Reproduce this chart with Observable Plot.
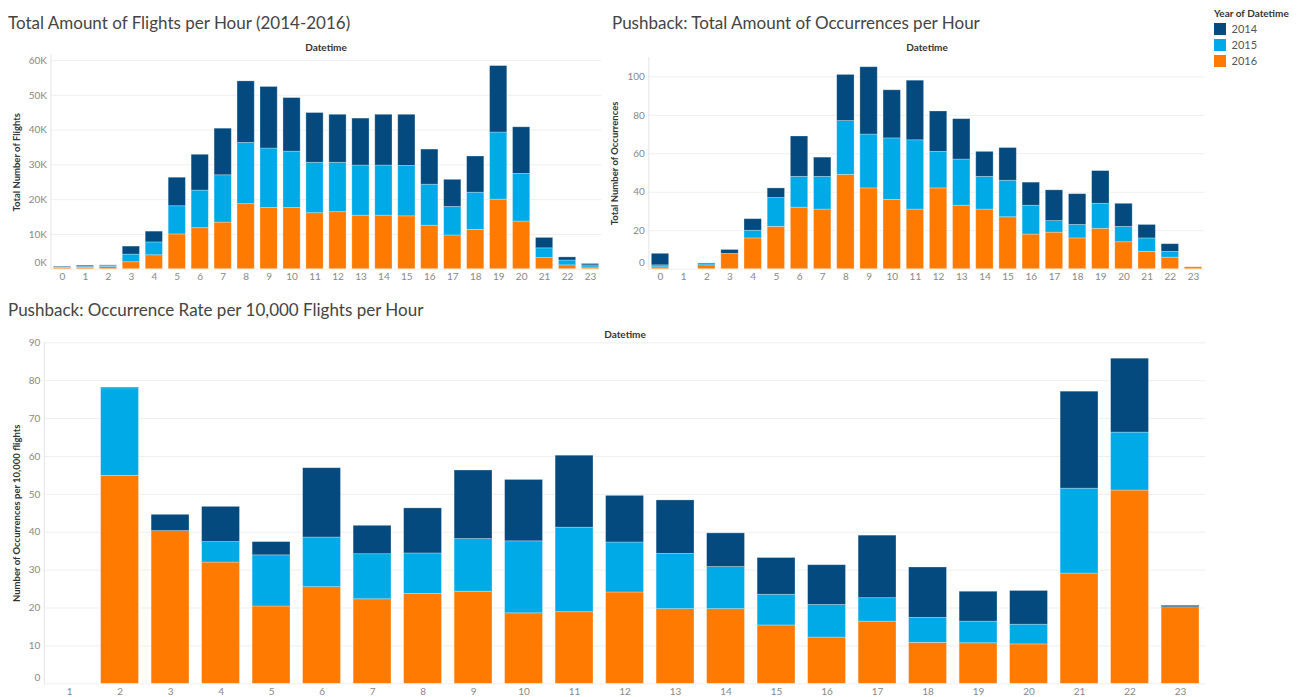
<!DOCTYPE html>
<html>
<head>
<meta charset="utf-8">
<script src="https://cdn.jsdelivr.net/npm/d3@7"></script>
<script src="https://cdn.jsdelivr.net/npm/@observablehq/plot@0.6"></script>
<style>
  html, body { margin: 0; padding: 0; background: #fff; }
  #root { position: relative; width: 1301px; height: 697px; overflow: hidden; font-family: Lato, "Open Sans", sans-serif; }
  .abs { position: absolute; }
  .title { font-size: 17px; color: #444; white-space: nowrap; font-family: Lato, sans-serif; }
  .dt { font-size: 10px; font-weight: bold; color: #333; transform: translate(-50%, -50%); white-space: nowrap; }
  #legend { left: 1214px; top: 7px; }
  #legend .lt { font-size: 10px; font-weight: bold; color: #333; margin-bottom: 3px; }
  #lg div[class$="-swatch"] { padding-bottom: 3px !important; }
</style>
</head>
<body>
<div id="root">
  <div id="c1" class="abs" style="left:0px; top:35px;"></div>
  <div id="c2" class="abs" style="left:605px; top:35px;"></div>
  <div id="c3" class="abs" style="left:0px; top:328px;"></div>
  <div class="abs title" style="left:8px; top:12px;">Total Amount of Flights per Hour (2014-2016)</div>
  <div class="abs title" style="left:612px; top:12px;">Pushback: Total Amount of Occurrences per Hour</div>
  <div class="abs title" style="left:8px; top:299px;">Pushback: Occurrence Rate per 10,000 Flights per Hour</div>
  <div class="abs dt" style="left:326px; top:47px;">Datetime</div>
  <div class="abs dt" style="left:927px; top:47px;">Datetime</div>
  <div class="abs dt" style="left:625px; top:334px;">Datetime</div>
  <div id="legend" class="abs"><div class="lt">Year of Datetime</div><div id="lg"></div></div>
</div>
<script>
// ---------- data ----------
const years = ["2014", "2015", "2016"];
const yearColors = ["#044a7e", "#00aae6", "#ff7a00"];
const hours = [0,1,2,3,4,5,6,7,8,9,10,11,12,13,14,15,16,17,18,19,20,21,22,23];

const flights2016 = [300,400,600,2000,4000,10000,11800,13400,18700,17600,17600,16100,16400,15400,15400,15200,12500,9700,11300,20000,13700,3200,1100,500];
const flights2015 = [200,300,300,2200,3700,8100,10800,13600,17600,17100,16200,14500,14200,14400,14400,14500,11800,8200,10700,19300,13700,2800,1400,600];
const flights2014 = [200,300,200,2300,3100,8200,10300,13400,17700,17700,15400,14300,13800,13500,14600,14700,10100,7800,10400,19100,13400,3000,900,400];

const occ2016 = [1,0,2,8,16,22,32,31,49,42,36,31,42,33,31,27,18,19,16,21,14,9,6,1];
const occ2015 = [1,0,1,0,4,15,16,17,28,28,32,36,19,24,17,19,15,6,7,13,8,7,3,0];
const occ2014 = [6,0,0,2,6,5,21,10,24,35,25,31,21,21,13,17,12,16,16,17,12,7,4,0];

const rateHours = [1,2,3,4,5,6,7,8,9,10,11,12,13,14,15,16,17,18,19,20,21,22,23];
const rate2016 = [0,54.9,40.3,32.0,20.4,25.5,22.3,23.7,24.3,18.6,18.9,24.1,19.7,19.7,15.4,12.2,16.4,10.8,10.7,10.4,29.1,51.0,20.2];
const rate2015 = [0,23.1,0,5.4,13.5,13.1,11.9,10.7,13.9,19.0,22.3,13.2,14.6,11.1,8.1,8.6,6.2,6.6,5.7,5.2,22.4,15.3,0];
const rate2014 = [0,0.2,4.3,9.3,3.5,18.3,7.5,11.9,18.1,16.2,19.0,12.3,14.1,8.9,9.7,10.5,16.5,13.3,7.9,8.9,25.6,19.5,0.4];

const flightTicks = [0,10000,20000,30000,40000,50000,60000];
const occTicks = [0,20,40,60,80,100];
const rateTicks = [0,10,20,30,40,50,60,70,80,90];

function toRows(xs, s2016, s2015, s2014) {
  const rows = [];
  [["2016", s2016], ["2015", s2015], ["2014", s2014]].forEach(([y, arr]) => {
    xs.forEach((h, i) => rows.push({hour: h, year: y, value: arr[i]}));
  });
  return rows;
}

const font = "Lato, 'Open Sans', sans-serif";

function chart({rows, xs, width, height, mL, mR, mT, mB, yDomain, ticks, tickFormat, label, labelOffset}) {
  return Plot.plot({
    width, height,
    marginLeft: mL, marginRight: mR, marginTop: mT, marginBottom: mB,
    style: {fontFamily: font, fontSize: "10px", color: "#777", background: "transparent"},
    x: {type: "band", domain: xs, paddingInner: 0.25, paddingOuter: 0.125, round: false, label: null},
    y: {domain: yDomain, label: null},
    color: {domain: years, range: yearColors},
    marks: [
      Plot.gridY(ticks, {stroke: "#efefef", strokeOpacity: 1}),
      Plot.frame({anchor: "left", stroke: "#e4e4e4"}),
      Plot.barY(rows, {x: "hour", y: "value", fill: "year", order: ["2016", "2015", "2014"], stroke: "#ffffff", strokeOpacity: 0.35, strokeWidth: 0.8}),
      Plot.axisX({tickSize: 0, tickPadding: 4, fill: "#888", label: null}),
      Plot.axisY({ticks: ticks.filter(t => t !== 0), tickFormat, tickSize: 0, tickPadding: 4, fill: "#888", label: null}),
      Plot.axisY({ticks: [0], tickFormat, tickSize: 0, tickPadding: 4, dy: -6.5, fill: "#888", label: null}),
      Plot.axisY({ticks: [], label, labelAnchor: "center", labelArrow: "none", labelOffset, fill: "#333", fontWeight: "bold", fontSize: 9.5})
    ]
  });
}

document.getElementById("c1").appendChild(chart({
  rows: toRows(hours, flights2016, flights2015, flights2014), xs: hours,
  width: 605, height: 255, mL: 50.5, mR: 3.5, mT: 19.8, mB: 21.3,
  yDomain: [0, 61500], ticks: flightTicks, tickFormat: d => (d / 1000) + "K",
  label: "Total Number of Flights", labelOffset: 38
}));

document.getElementById("c2").appendChild(chart({
  rows: toRows(hours, occ2016, occ2015, occ2014), xs: hours,
  width: 605, height: 255, mL: 43.4, mR: 5.4, mT: 22.1, mB: 21.3,
  yDomain: [0, 110], ticks: occTicks, tickFormat: d => d,
  label: "Total Number of Occurrences", labelOffset: 38
}));

document.getElementById("c3").appendChild(chart({
  rows: toRows(rateHours, rate2016, rate2015, rate2014), xs: rateHours,
  width: 1210, height: 369, mL: 43.8, mR: 4.7, mT: 14.3, mB: 13.7,
  yDomain: [0, 90], ticks: rateTicks, tickFormat: d => d,
  label: "Number of Occurrences per 10,000 flights", labelOffset: 31
}));

document.getElementById("lg").appendChild(Plot.legend({
  color: {domain: years, range: yearColors},
  legend: "swatches", columns: 1, swatchSize: 12,
  style: {fontFamily: font, fontSize: "11px", color: "#555"}
}));
</script>
</body>
</html>
